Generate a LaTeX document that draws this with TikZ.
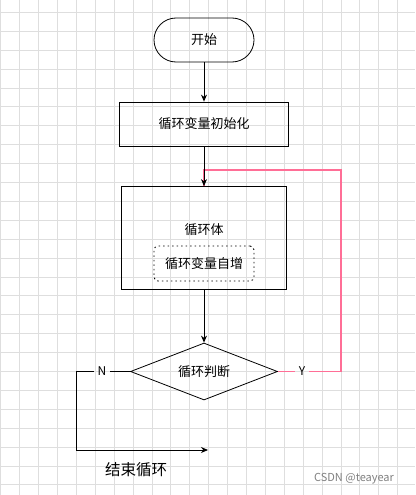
\documentclass[tikz,border=0pt]{standalone}
\usepackage{fontspec}
\setmainfont{Noto Sans CJK SC}
\usetikzlibrary{arrows.meta,positioning,shapes.geometric}
\definecolor{loopred}{RGB}{255,110,150}
\definecolor{gridgray}{RGB}{222,222,222}

\begin{document}
\begin{tikzpicture}[x=1pt, y=-1pt, on grid, node distance=84pt,
	every node/.style = {font=\fontsize{13}{15}\selectfont},
	term/.style = {draw, line width=0.8pt, rounded corners=22pt, minimum width=100pt, minimum height=44pt},
	proc/.style = {draw, line width=0.8pt, minimum width=169pt, minimum height=44pt},
	dotbox/.style = {draw, line width=0.9pt, dash pattern=on 1.5pt off 3pt, rounded corners=4pt, minimum width=100pt, minimum height=35pt},
	judge/.style = {draw, line width=0.8pt, diamond, aspect=2.58, inner sep=0pt, minimum width=147pt, minimum height=57pt},
	flow/.style = {draw, line width=0.9pt, -{Stealth[length=7pt,width=6pt]}},
	back/.style = {draw, loopred, line width=1.6pt}]
	\useasboundingbox (0,0) rectangle (415,495);
	\fill[white] (0,0) rectangle (415,495);
	\foreach \i in {0,...,21}
		\draw[gridgray, line width=0.8pt] (0.7+18.9*\i,0) -- (0.7+18.9*\i,495);
	\foreach \j in {0,...,25}
		\draw[gridgray, line width=0.8pt] (0,12.3+18.9*\j) -- (415,12.3+18.9*\j);
	\node[term] (start) at (204,40) {开始};
	\node[proc] (init) [below = of start] {循环变量初始化};
	\node[proc, minimum width=165pt, minimum height=103pt] (body) [below = 114pt of init] {};
	\node (bodytxt) at (204,230) {循环体};
	\node[dotbox] (inc) at (204,263.5) {循环变量自增};
	\node[judge] (judge) [below = 133.5pt of body] {循环判断};
	\node[font=\fontsize{12}{14}\selectfont] (N) [left = 102pt of judge] {N};
	\node[font=\fontsize{12}{14}\selectfont] (Y) [right = 98pt of judge] {Y};
	\coordinate[left = 26pt of N] (ncorner);
	\coordinate[below = 78.5pt of ncorner] (nlow);
	\coordinate[right = 132pt of nlow] (endtip);
	\coordinate[right = 39pt of Y] (ycorner);
	\coordinate (ybend) at (204,170);
	\node[font=\fontsize{15.5}{17}\selectfont] (endtxt) at (136,470) {结束循环};
	\node[text=gray, font=\fontsize{11}{13}\selectfont] (mark) at (354,479) {CSDN @teayear};
	\draw[back] (judge) -- (Y);
	\draw[back] (Y) -- (ycorner) |- (ybend) -- (body.north);
	\draw[flow] (start) -- (init);
	\draw[flow] (init) -- (body);
	\draw[flow] (body) -- (judge);
	\draw[line width=0.9pt] (judge) -- (N);
	\draw[flow] (N) -- (ncorner) -- (nlow) -- (endtip);
\end{tikzpicture}
\end{document}
